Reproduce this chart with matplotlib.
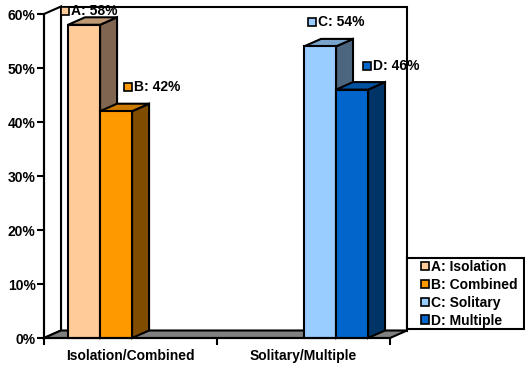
import matplotlib
matplotlib.use("Agg")
import matplotlib.pyplot as plt
from matplotlib.patches import Polygon, Patch, Rectangle
from matplotlib.transforms import offset_copy

# ---- data ----
categories = ["Isolation/Combined", "Solitary/Multiple"]
series_keys = ["A", "B", "C", "D"]
series_names = ["Isolation", "Combined", "Solitary", "Multiple"]
series_values = [58, 42, 54, 46]
series_category = [0, 0, 1, 1]
y_ticks = [0, 10, 20, 30, 40, 50, 60]

# ---- styles ----
front_colors = ["#FFCC99", "#FF9900", "#99CCFF", "#0066CC"]
side_colors = ["#806650", "#804C00", "#4D6680", "#003366"]
top_colors = ["#BF9973", "#CC7A00", "#7AA3CC", "#0052A3"]
group_offset = [-0.361, 0.003]   # left of group relative to category center
bar_w = 0.185
label_off = [(-19.5, 14), (11.5, 24), (-8.5, 24.5), (14.5, 23.5)]  # dots
FS = 10

W, H = 525, 366
fig = plt.figure(figsize=(W / 100, H / 100), dpi=100)
plt.rcParams["font.family"] = ["Liberation Sans", "DejaVu Sans"]
ax = fig.add_axes([44 / W, (H - 338) / H, 346 / W, 324 / H])
ax.set_xlim(0, 2)
ax.set_ylim(0, 60)
ax.patch.set_alpha(0)

DX = 17 / 173.0
DY = 7.5 / 5.4
LW = 1.5

# back wall
ax.add_patch(Polygon([(DX, DY), (2 + DX, DY), (2 + DX, 60 + DY), (DX, 60 + DY)],
                     closed=True, fc="white", ec="black", lw=LW, clip_on=False, zorder=1))
# left wall
ax.add_patch(Polygon([(0, 0), (DX, DY), (DX, 60 + DY), (0, 60)],
                     closed=True, fc="white", ec="black", lw=LW, clip_on=False, zorder=1))
# floor
ax.add_patch(Polygon([(0, 0), (2, 0), (2 + DX, DY), (DX, DY)],
                     closed=True, fc="#808080", ec="black", lw=LW, clip_on=False, zorder=2))

# bars
count = {}
for i, (v, c) in enumerate(zip(series_values, series_category)):
    k = count.get(c, 0)
    count[c] = k + 1
    x0 = c + 0.5 + group_offset[c] + k * bar_w
    x1 = x0 + bar_w
    z = 3 + i
    ax.add_patch(Polygon([(x1, 0), (x1 + DX, DY), (x1 + DX, v + DY), (x1, v)],
                         closed=True, fc=side_colors[i], ec="black", lw=LW, clip_on=False, zorder=z))
    ax.add_patch(Polygon([(x0, v), (x1, v), (x1 + DX, v + DY), (x0 + DX, v + DY)],
                         closed=True, fc=top_colors[i], ec="black", lw=LW, clip_on=False, zorder=z))
    ax.add_patch(Polygon([(x0, 0), (x1, 0), (x1, v), (x0, v)],
                         closed=True, fc=front_colors[i], ec="black", lw=LW, clip_on=False, zorder=z))
    # label
    cx = (x0 + x1) / 2
    ox, oy = label_off[i]
    tr = offset_copy(ax.transData, fig=fig, x=ox, y=oy, units="dots")
    ax.plot([cx], [v], marker="s", ms=5.6, mfc=front_colors[i], mec="black", mew=1.2,
            transform=tr, clip_on=False, zorder=20)
    tr2 = offset_copy(ax.transData, fig=fig, x=ox + 6.5, y=oy, units="dots")
    ax.text(cx, v, f"{series_keys[i]}: {v}%", transform=tr2, ha="left", va="center",
            fontsize=FS, fontweight="bold", zorder=20)

# axes
for s in ["top", "right"]:
    ax.spines[s].set_visible(False)
for s in ["left", "bottom"]:
    ax.spines[s].set_linewidth(LW)
    ax.spines[s].set_zorder(10)
ax.set_yticks(y_ticks)
ax.set_yticklabels([f"{t}%" for t in y_ticks], fontsize=FS, fontweight="bold")
ax.tick_params(axis="y", length=5, width=LW, pad=1)
ax.set_xticks([0, 1, 2])
ax.set_xticklabels([])
ax.set_xticks([0.5, 1.5], minor=True)
ax.set_xticklabels(categories, minor=True, fontsize=FS, fontweight="bold")
ax.tick_params(axis="x", which="major", length=5, width=LW)
ax.tick_params(axis="x", which="minor", length=0, pad=8)

# legend frame + legend
fig.add_artist(Rectangle((407 / W, 1 - 329 / H), 117 / W, 71 / H, transform=fig.transFigure,
                         fc="white", ec="black", lw=LW, zorder=30))
handles = [Patch(fc=front_colors[i], ec="black", lw=1.2) for i in range(4)]
labels = [f"{k}: {n}" for k, n in zip(series_keys, series_names)]
leg = fig.legend(handles, labels, loc="upper left",
                 bbox_to_anchor=(420 / W, 1 - 258.5 / H),
                 prop={"weight": "bold", "size": FS},
                 frameon=False, handlelength=0.55, handleheight=0.55, handletextpad=0.15,
                 labelspacing=0.28, borderpad=0.1, borderaxespad=0)
leg.set_zorder(31)

fig.savefig("out.png", dpi=100)
